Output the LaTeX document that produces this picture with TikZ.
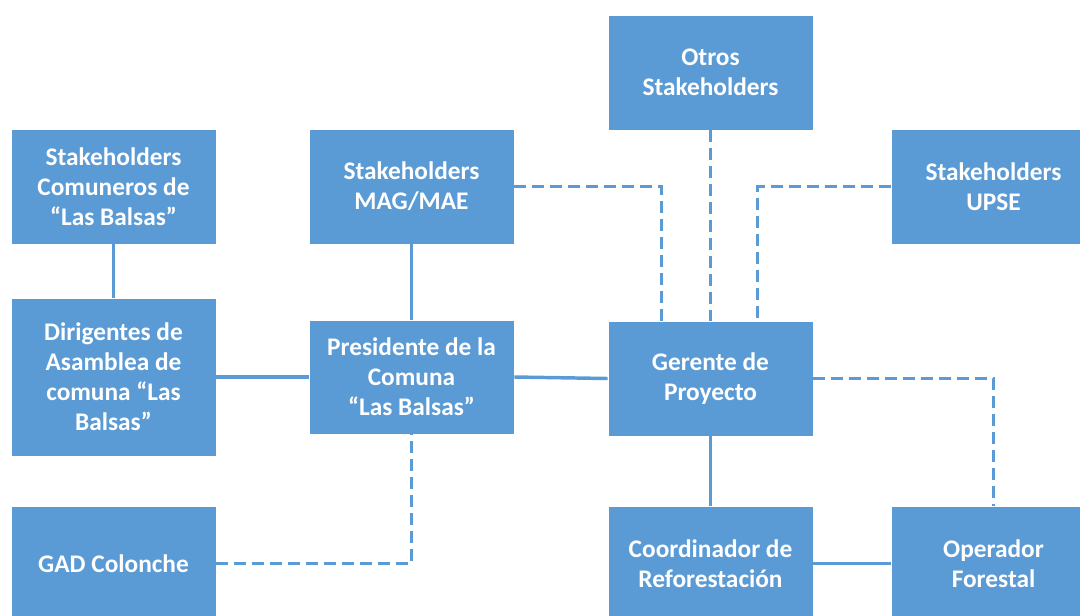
\documentclass[tikz,border=0pt]{standalone}
\usepackage{fontspec}
\setmainfont{Carlito}
\usetikzlibrary{calc}
\definecolor{boxblue}{HTML}{5B9BD5}
\tikzset{
  box/.style={rectangle, fill=boxblue, draw=white, line width=0.6pt, inner sep=0pt,
    minimum width=153.75pt, minimum height=86.25pt, align=center, text=white,
    font=\fontsize{19}{22.5}\selectfont\bfseries},
  solidlink/.style={draw=boxblue, line width=2.6pt},
  dashlink/.style={draw=boxblue, line width=2.6pt, dash pattern=on 9pt off 4.5pt}
}
\begin{document}
\begin{tikzpicture}[x=0.75pt, y=-0.75pt]
\useasboundingbox (0,0) rectangle (1080,615);
\node[box] (otros) at (710.5,72.5) {Otros\\Stakeholders};
\node[box] (comun) at (113.5,186.5) {Stakeholders\\Comuneros de\\“Las Balsas”};
\node[box] (mag) at (411.5,186.5) {Stakeholders\\MAG/MAE};
\node[box] (upse) at (993.5,186.5) {Stakeholders\\UPSE};
\node[box, minimum height=118.5pt] (dirig) at (113.5,377) {Dirigentes de\\Asamblea de\\comuna “Las\\Balsas”};
\node[box, minimum height=85.5pt] (pres) at (411.5,377) {Presidente de la\\Comuna\\“Las Balsas”};
\node[box] (ger) at (710.5,378.5) {Gerente de\\Proyecto};
\node[box] (gad) at (113.5,563.5) {GAD Colonche};
\node[box] (coord) at (710.5,563.5) {Coordinador de\\Reforestación};
\node[box] (oper) at (993.5,563.5) {Operador\\Forestal};
\path[solidlink] (comun.south) -- (dirig.north);
\path[solidlink] (dirig.east) -- (pres.west);
\path[solidlink] (mag.south) -- (pres.north);
\path[solidlink] (pres.east) -- (ger.west);
\path[solidlink] (ger.south) -- (coord.north);
\path[solidlink] (coord.east) -- (oper.west);
\coordinate (gA) at ($(ger.north west)+(54,0)$);
\coordinate (gB) at ($(ger.north west)+(150,0)$);
\path[dashlink] (mag.east) -| (gA);
\path[dashlink] (otros.south) -- (ger.north);
\path[dashlink] (upse.west) -| (gB);
\path[dashlink] (ger.east) -| (oper.north);
\path[dashlink] (gad.east) -| (pres.south);
\end{tikzpicture}
\end{document}
